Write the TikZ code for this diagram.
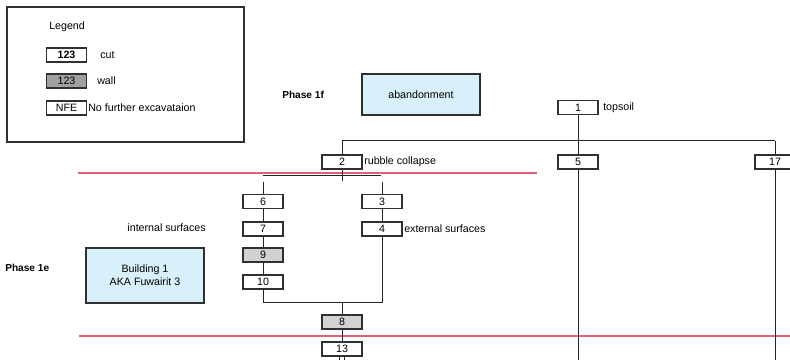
\documentclass[tikz,border=0pt]{standalone}
\usepackage{fontspec}
\setmainfont{Liberation Sans}
\definecolor{redline}{HTML}{E06078}
\definecolor{lightblue}{HTML}{D8F0FA}
\definecolor{wallgray}{HTML}{D2D2D2}
\definecolor{legwall}{HTML}{A0A0A0}
\definecolor{frame}{HTML}{303030}
\begin{document}
\begin{tikzpicture}[x=0.75pt,y=-0.75pt,
  font=\fontsize{8}{9.6}\selectfont,
  ctx/.style={draw=frame,line width=0.8pt,minimum width=30pt,minimum height=10.5pt,inner sep=0pt,fill=white},
  wallbox/.style={ctx,fill=wallgray},
  bluebox/.style={draw=frame,line width=0.9pt,fill=lightblue,inner sep=0pt,align=center},
  lbl/.style={inner sep=0pt,anchor=west},
  phase/.style={inner sep=0pt,anchor=west,font=\fontsize{7.6}{9}\selectfont\bfseries},
  conn/.style={draw=black!85,line width=0.75pt},
  redrule/.style={draw=redline,line width=0.8pt}]
\useasboundingbox (0,0) rectangle (790,360);
\clip (0,0) rectangle (790,360);
\fill[white] (0,0) rectangle (790,360);

% legend
\node[draw=frame,line width=0.8pt,minimum width=177.75pt,minimum height=101.25pt,inner sep=0pt] (legend) at (125.5,74.5) {};
\node[lbl] (legtitle) at (49,27) {Legend};
\node[ctx,line width=1.4pt,font=\fontsize{8}{9.6}\selectfont\bfseries] (legcut) at (66.5,55) {123};
\node[lbl] (legcuttxt) at (100,55) {cut};
\node[ctx,fill=legwall] (legwall) at (66.5,81) {123};
\node[lbl] (legwalltxt) at (97,81) {wall};
\node[ctx] (legnfe) at (66.5,108) {NFE};
\node[lbl] (legnfetxt) at (88,108) {No further excavataion};

% phase labels and blue boxes
\node[phase] (p1f) at (282,95) {Phase 1f};
\node[bluebox,minimum width=88.5pt,minimum height=30.75pt] (aband) at (421,94.5) {abandonment};
\node[phase] (p1e) at (5,268) {Phase 1e};
\node[bluebox,minimum width=88.5pt,minimum height=41.25pt] (bld) at (145,275.5) {Building 1\\AKA Fuwairit 3};

% red phase rules
\coordinate (r1a) at (78,173); \coordinate (r1b) at (537,173);
\coordinate (r2a) at (79,336); \coordinate (r2b) at (790,336);
\draw[redrule] (r1a) -- (r1b);
\draw[redrule] (r2a) -- (r2b);

% coordinates for connectors
\coordinate (t1) at (342,141);
\coordinate (t2) at (775,141);
\coordinate (s2) at (342,181);
\coordinate (ba) at (263,176);
\coordinate (bb) at (381,176);
\coordinate (v6) at (263,182);
\coordinate (v3) at (382,182);
\coordinate (j1) at (263,302);
\coordinate (j2) at (382,302);
\coordinate (jm) at (342,302);
\coordinate (e5) at (578,360);
\coordinate (e17) at (775,360);
\coordinate (e13a) at (339.5,360);
\coordinate (e13b) at (344.5,360);

% connectors
\draw[conn] (t1) -- (t2);
\draw[conn] (578,107) -- (e5);
\draw[conn] (t1) -- (s2);
\draw[conn] (t2) -- (e17);
\draw[conn] (ba) -- (bb);
\draw[conn] (v6) -- (263,282);
\draw[conn] (v3) -- (382,229);
\draw[conn] (263,282) -- (j1) -- (j2) -- (382,229);
\draw[conn] (jm) -- (342,349);
\draw[conn] (339.5,349) -- (e13a);
\draw[conn] (344.5,349) -- (e13b);

% context boxes
\node[ctx] (n1) at (578,107.5) {1};
\node[lbl] (t1lbl) at (603,107.5) {topsoil};
\node[ctx] (n5) at (578,162) {5};
\node[ctx] (n17) at (775,162) {17};
\node[ctx] (n2) at (342,162) {2};
\node[lbl] (t2lbl) at (364,162) {rubble collapse};
\node[ctx] (n6) at (263,201.5) {6};
\node[ctx] (n3) at (382,201.5) {3};
\node[ctx] (n7) at (263,229) {7};
\node[inner sep=0pt,anchor=east] (intlbl) at (206,228) {internal surfaces};
\node[ctx] (n4) at (382,229) {4};
\node[lbl] (extlbl) at (404,229) {external surfaces};
\node[wallbox] (n9) at (263,255) {9};
\node[ctx] (n10) at (263,282) {10};
\node[wallbox] (n8) at (342,322) {8};
\node[ctx] (n13) at (342,349) {13};
\end{tikzpicture}
\end{document}
